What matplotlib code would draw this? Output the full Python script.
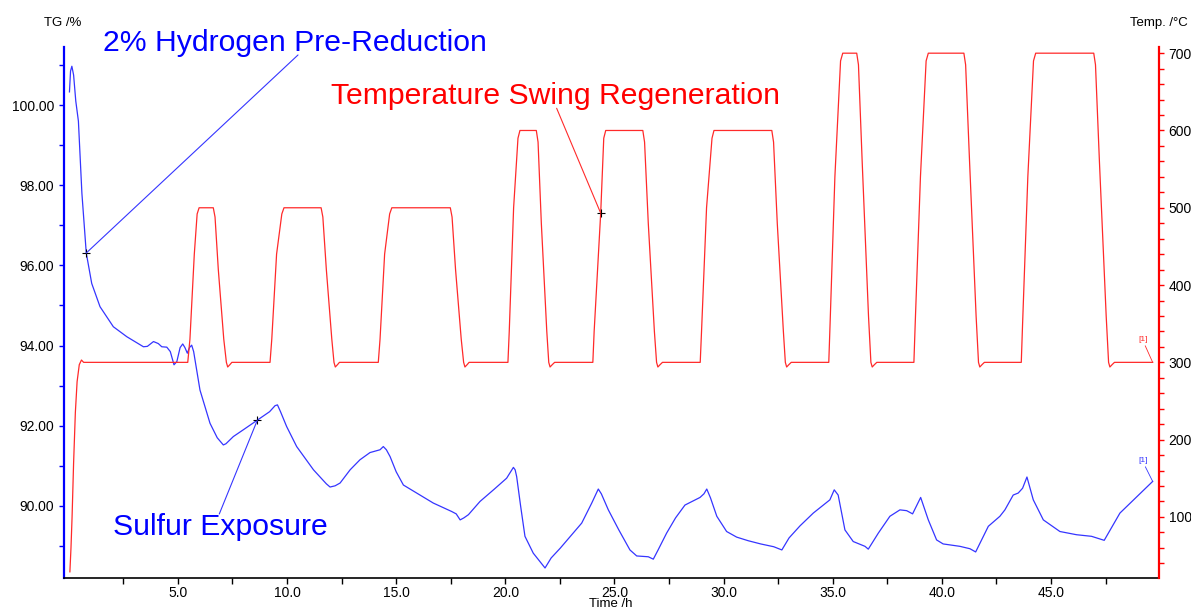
import matplotlib
matplotlib.use("Agg")
import matplotlib.pyplot as plt
from matplotlib.ticker import FixedLocator, FormatStrFormatter

plt.rcParams['font.family'] = ['Liberation Sans', 'DejaVu Sans']

# TG mass curve (time in h, TG in %)
tg_time = [0.03, 0.08, 0.14, 0.22, 0.32, 0.44, 0.6, 0.8, 1.05, 1.43, 2.04, 2.66, 3.42, 3.6, 3.88,
           4.1, 4.26, 4.49, 4.65, 4.82, 4.95, 5.1, 5.22, 5.32, 5.43, 5.53, 5.63, 5.72, 6.01, 6.47,
           6.8, 7.08, 7.2, 7.54, 8.0, 8.64, 9.2, 9.45, 9.56, 9.7, 9.98, 10.44, 11.21, 11.8, 11.97,
           12.2, 12.43, 12.89, 13.34, 13.8, 14.26, 14.41, 14.55, 14.72, 15.0, 15.33, 16.0, 16.7,
           17.54, 17.75, 17.93, 18.1, 18.31, 18.84, 19.5, 20.06, 20.3, 20.37, 20.45, 20.52, 20.7,
           20.9, 21.28, 21.6, 21.82, 22.1, 22.51, 23.0, 23.5, 23.96, 24.26, 24.4, 24.72, 25.2,
           25.71, 26.02, 26.55, 26.78, 27.0, 27.39, 27.8, 28.23, 28.92, 29.1, 29.23, 29.4, 29.69,
           30.14, 30.6, 31.13, 31.7, 32.3, 32.67, 33.0, 33.5, 34.11, 34.87, 35.07, 35.25, 35.56,
           35.94, 36.48, 36.63, 37.09, 37.62, 38.08, 38.39, 38.66, 39.03, 39.38, 39.76, 40.06,
           40.83, 41.29, 41.55, 42.13, 42.66, 42.89, 43.27, 43.5, 43.7, 43.9, 44.19, 44.65, 45.41,
           46.17, 46.86, 47.44, 48.16, 49.66]
tg_pct = [100.33, 100.85, 100.97, 100.75, 100.1, 99.6, 97.8, 96.31, 95.55, 94.97, 94.47, 94.22,
          93.97, 93.98, 94.10, 94.05, 93.97, 93.96, 93.85, 93.52, 93.6, 93.95, 94.04, 93.95, 93.81,
          93.95, 94.01, 93.85, 92.89, 92.06, 91.7, 91.52, 91.55, 91.73, 91.9, 92.14, 92.35, 92.5,
          92.52, 92.35, 91.98, 91.48, 90.90, 90.55, 90.47, 90.5, 90.57, 90.90, 91.15, 91.33, 91.40,
          91.48, 91.4, 91.23, 90.85, 90.52, 90.3, 90.07, 89.86, 89.8, 89.65, 89.7, 89.78, 90.11,
          90.42, 90.69, 90.9, 90.96, 90.9, 90.73, 90.0, 89.24, 88.82, 88.6, 88.45, 88.7, 88.94,
          89.25, 89.57, 90.07, 90.42, 90.3, 89.90, 89.4, 88.90, 88.75, 88.73, 88.67, 88.9, 89.32,
          89.7, 90.02, 90.21, 90.3, 90.42, 90.2, 89.74, 89.36, 89.22, 89.13, 89.05, 88.98, 88.90,
          89.2, 89.50, 89.82, 90.15, 90.40, 90.27, 89.40, 89.11, 88.99, 88.92, 89.32, 89.74, 89.90,
          89.88, 89.80, 90.21, 89.65, 89.15, 89.05, 88.99, 88.93, 88.85, 89.49, 89.74, 89.90,
          90.27, 90.32, 90.44, 90.72, 90.15, 89.65, 89.36, 89.28, 89.24, 89.14, 89.82, 90.61]

# furnace temperature (time in h, temperature in C)
temp_time = [0.05, 0.10, 0.15, 0.22, 0.30, 0.38, 0.48, 0.58, 0.68, 5.45,
             5.55, 5.75, 5.88, 5.97, 6.62, 6.70, 6.85, 7.10, 7.22, 7.28, 7.38, 7.47, 9.22,
             9.30, 9.52, 9.76, 9.86, 11.56, 11.64, 11.80, 12.05, 12.15, 12.21, 12.31, 12.40, 14.18,
             14.26, 14.47, 14.70, 14.80, 17.48, 17.56, 17.72, 17.98, 18.09, 18.15, 18.25, 18.34, 20.12,
             20.18, 20.38, 20.58, 20.67, 21.42, 21.50, 21.65, 21.90, 21.99, 22.05, 22.15, 22.26, 24.01,
             24.07, 24.37, 24.51, 24.60, 26.30, 26.38, 26.55, 26.83, 26.93, 26.99, 27.09, 27.20, 28.93,
             28.99, 29.22, 29.47, 29.56, 32.21, 32.29, 32.46, 32.74, 32.83, 32.89, 32.99, 33.10, 34.82,
             34.88, 35.10, 35.36, 35.46, 36.10, 36.18, 36.35, 36.64, 36.75, 36.81, 36.91, 37.02, 38.72,
             38.78, 39.02, 39.28, 39.38, 41.01, 41.09, 41.27, 41.57, 41.68, 41.74, 41.84, 41.95, 43.64,
             43.70, 43.94, 44.20, 44.30, 46.96, 47.04, 47.22, 47.53, 47.64, 47.70, 47.80, 47.91, 49.66]
temp_c = [29, 60, 100, 170, 235, 275, 297, 303, 300, 300,
          330, 440, 492, 500, 500, 488, 420, 330, 300, 294, 297, 300, 300,
          330, 440, 492, 500, 500, 488, 420, 330, 300, 294, 297, 300, 300,
          330, 440, 492, 500, 500, 488, 420, 330, 300, 294, 297, 300, 300,
          340, 500, 590, 600, 600, 585, 480, 340, 300, 294, 297, 300, 300,
          340, 493, 590, 600, 600, 585, 480, 340, 300, 294, 297, 300, 300,
          340, 500, 590, 600, 600, 585, 480, 340, 300, 294, 297, 300, 300,
          350, 540, 690, 700, 700, 685, 560, 360, 300, 294, 297, 300, 300,
          350, 540, 690, 700, 700, 685, 560, 360, 300, 294, 297, 300, 300,
          350, 540, 690, 700, 700, 685, 560, 360, 300, 294, 297, 300, 300]

x_ticks = [5, 10, 15, 20, 25, 30, 35, 40, 45]
tg_ticks = [90, 92, 94, 96, 98, 100]
temp_ticks = [100, 200, 300, 400, 500, 600, 700]

# annotated points
h2_point = (0.8, 96.31)
sulfur_point = (8.64, 92.14)
tsr_point = (24.37, 493)

fig = plt.figure(figsize=(11.91, 6.10), dpi=100, facecolor='white')
ax = fig.add_axes([64 / 1191, 32 / 610, 1095 / 1191, 531 / 610])
ax2 = ax.twinx()

ax.plot(tg_time, tg_pct, color='#3535ff', linewidth=0.9)
ax2.plot(temp_time, temp_c, color='#ff2a2a', linewidth=0.9)

ax.set_xlim(-0.22, 49.95)
ax.set_ylim(88.2, 101.45)
ax2.set_ylim(21, 708)

ax.xaxis.set_major_locator(FixedLocator(x_ticks))
ax.xaxis.set_minor_locator(FixedLocator([t - 2.5 for t in x_ticks] + [47.5]))
ax.xaxis.set_major_formatter(FormatStrFormatter('%.1f'))
ax.yaxis.set_major_locator(FixedLocator(tg_ticks))
ax.yaxis.set_minor_locator(FixedLocator([89, 91, 93, 95, 97, 99, 101]))
ax.yaxis.set_major_formatter(FormatStrFormatter('%.2f'))
ax2.yaxis.set_major_locator(FixedLocator(temp_ticks))
ax2.yaxis.set_minor_locator(FixedLocator(range(40, 701, 20)))

for a in (ax, ax2):
    a.spines['top'].set_visible(False)
ax.spines['right'].set_visible(False)
ax2.spines['left'].set_visible(False)
ax2.spines['bottom'].set_visible(False)
ax.spines['left'].set_color('#0000ff')
ax.spines['left'].set_linewidth(1.6)
ax2.spines['right'].set_color('#ff0000')
ax2.spines['right'].set_linewidth(1.6)
ax.spines['bottom'].set_linewidth(1.2)

ax.tick_params(axis='x', which='both', direction='out', length=4, width=1, labelsize=10, pad=2)
ax.tick_params(axis='y', which='both', direction='out', length=3.5, width=1,
               color='#0000ff', labelsize=10, labelcolor='black')
ax2.tick_params(axis='y', which='both', direction='out', length=3.5, width=1,
                color='#ff0000', labelsize=10, labelcolor='black')

fig.text(63 / 1191, 1 - 23 / 610, 'TG /%', fontsize=9.5, ha='center', va='center')
fig.text(1159 / 1191, 1 - 23 / 610, 'Temp. /°C', fontsize=9.5, ha='center', va='center')
fig.text(611 / 1191, 1 - 604 / 610, 'Time /h', fontsize=9.5, ha='center', va='center')

# annotations with leader lines
ax.plot(*h2_point, marker='+', color='black', markersize=6, markeredgewidth=0.8)
ax.plot(*sulfur_point, marker='+', color='black', markersize=6, markeredgewidth=0.8)
ax2.plot(*tsr_point, marker='+', color='black', markersize=6, markeredgewidth=0.8)

ax.annotate('', xy=h2_point, xytext=(0.2137, 0.985), textcoords='axes fraction',
            arrowprops=dict(arrowstyle='-', color='#3535ff', lw=0.8, shrinkA=0, shrinkB=0),
            annotation_clip=False)
ax.annotate('', xy=sulfur_point, xytext=(0.1418, 0.1205), textcoords='axes fraction',
            arrowprops=dict(arrowstyle='-', color='#3535ff', lw=0.8, shrinkA=0, shrinkB=0))
ax2.annotate('', xy=tsr_point, xytext=(0.4499, 0.8846), textcoords='axes fraction',
             arrowprops=dict(arrowstyle='-', color='#ff2a2a', lw=0.8, shrinkA=0, shrinkB=0))

ax.text(0.0356, 1.0075, '2% Hydrogen Pre-Reduction', transform=ax.transAxes, color='#0000ff',
        fontsize=21.7, ha='left', va='center')
ax.text(0.2438, 0.9077, 'Temperature Swing Regeneration', transform=ax.transAxes, color='#ff0000',
        fontsize=21.7, ha='left', va='center')
ax.text(0.0447, 0.096, 'Sulfur Exposure', transform=ax.transAxes, color='#0000ff',
        fontsize=21.7, ha='left', va='center')

# curve end labels
ax2.annotate('[1]', xy=(temp_time[-1], temp_c[-1]), xytext=(0.9854, 0.4426), textcoords='axes fraction',
             fontsize=6, color='#ff2a2a', ha='center', va='bottom',
             arrowprops=dict(arrowstyle='-', color='#ff2a2a', lw=0.6, shrinkA=0, shrinkB=0,
                             relpos=(0.6, 0)))
ax.annotate('[1]', xy=(tg_time[-1], tg_pct[-1]), xytext=(0.9854, 0.2147), textcoords='axes fraction',
            fontsize=6, color='#3535ff', ha='center', va='bottom',
            arrowprops=dict(arrowstyle='-', color='#3535ff', lw=0.6, shrinkA=0, shrinkB=0,
                            relpos=(0.6, 0)))

fig.savefig('out.png', dpi=100, facecolor='white')
